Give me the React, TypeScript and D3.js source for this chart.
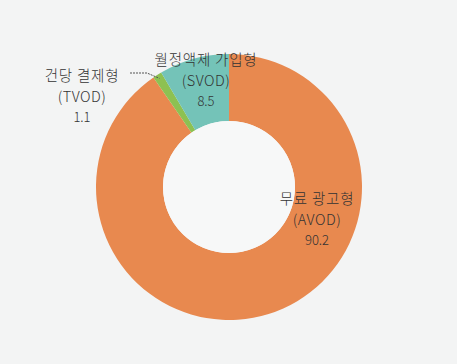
import React from "react";
import * as d3 from "d3";

const categories = ["무료 광고형", "건당 결제형", "월정액제 가입형"];
const codes = ["AVOD", "TVOD", "SVOD"];
const values = [90.2, 1.1, 8.5];
const colors = ["#E8894F", "#8DC152", "#74C3B8"];

export default function App() {
  const W = 457, H = 364;
  const cx = 229, cy = 187, R = 133, r = 66;
  const pie = d3.pie<number>().sort(null).value((d) => d)(values);
  const arc = d3.arc<d3.PieArcDatum<number>>().innerRadius(r).outerRadius(R);
  const font = "'Noto Sans CJK KR', 'Noto Sans', sans-serif";
  const labelPos = [
    { x: 317, y: 204 },
    { x: 82, y: 81 },
    { x: 206, y: 65 },
  ];
  const tv = pie[1];
  const midA = (tv.startAngle + tv.endAngle) / 2;
  const ex = cx + Math.sin(midA) * (R - 4);
  const ey = cy - Math.cos(midA) * (R - 4);
  return (
    <svg width={W} height={H} style={{ position: "absolute", left: 0, top: 0, background: "#F3F4F4" }}>
      <rect width={W} height={H} fill="#F3F4F4" />
      <g transform={`translate(${cx},${cy})`}>
        {pie.map((p, i) => (
          <path key={i} d={arc(p) || ""} fill={colors[i]} />
        ))}
        <circle r={r} fill="#F7F8F8" />
      </g>
      <polyline
        points={`130,73 147,73 ${ex},${ey}`}
        fill="none"
        stroke="#555"
        strokeWidth={1}
        strokeDasharray="2,1"
      />
      {labelPos.map((lp, i) => (
        <g key={i} fontFamily={font} fill="#333" textAnchor="middle" fontWeight={300}>
          <text x={lp.x} y={lp.y} fontSize={14.5} letterSpacing={0.8}>{categories[i]}</text>
          <text x={lp.x} y={lp.y + 21} fontSize={14.5} letterSpacing={0.5}>({codes[i]})</text>
          <text x={lp.x} y={lp.y + 41} fontSize={13}>{values[i]}</text>
        </g>
      ))}
    </svg>
  );
}
